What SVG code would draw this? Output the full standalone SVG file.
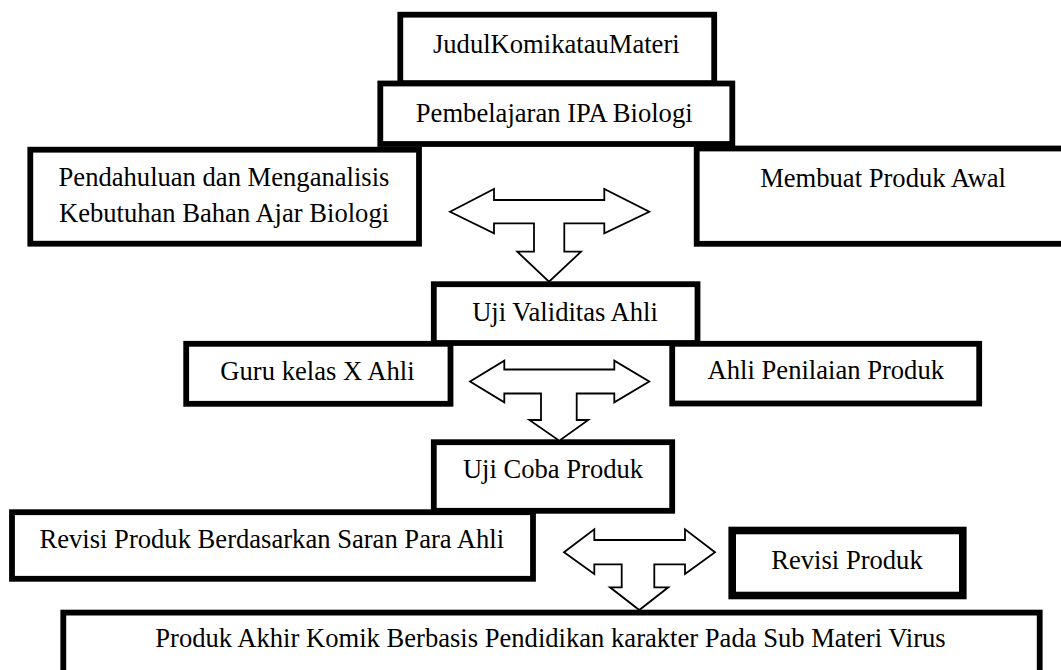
<svg xmlns="http://www.w3.org/2000/svg" width="1061" height="670" viewBox="0 0 1061 670">
<style>
.box{fill:#fff;stroke:#000;stroke-width:5.8}
.thick{stroke-width:7.6}
.lbl{font-family:"Liberation Serif","Times New Roman",serif;font-size:26.6px;fill:#000;text-anchor:middle}
.arrow{fill:#fff;stroke:#000;stroke-width:1.8;stroke-linejoin:miter}
</style>
<rect width="1061" height="670" fill="#fff"/>
<g id="node-judul">
<rect class="box" x="400.3" y="14.7" width="313.9" height="68.5"/>
<text class="lbl" x="556.3" y="52.5">JudulKomikatauMateri</text>
</g>
<g id="node-pembelajaran">
<rect class="box" x="380.3" y="83.5" width="352" height="60.5"/>
<text class="lbl" x="554.2" y="121.5">Pembelajaran IPA Biologi</text>
</g>
<g id="node-pendahuluan">
<rect class="box" x="30.3" y="149.7" width="388.7" height="94"/>
<text class="lbl" x="224" y="185.7">Pendahuluan dan Menganalisis</text>
<text class="lbl" x="224" y="221.7">Kebutuhan Bahan Ajar Biologi</text>
</g>
<g id="node-membuat">
<rect class="box" x="696.7" y="148.5" width="380" height="95.3"/>
<text class="lbl" x="883" y="187">Membuat Produk Awal</text>
</g>
<g id="node-ujivaliditas">
<rect class="box" x="433.8" y="284.2" width="263.7" height="58.8"/>
<text class="lbl" x="565" y="320.7">Uji Validitas Ahli</text>
</g>
<g id="node-guru">
<rect class="box" x="186.2" y="343.8" width="264.3" height="60"/>
<text class="lbl" x="317.5" y="380">Guru kelas X Ahli</text>
</g>
<g id="node-ahlipenilaian">
<rect class="box" x="672.2" y="343.8" width="307" height="59.7"/>
<text class="lbl" x="825.8" y="379.3">Ahli Penilaian Produk</text>
</g>
<g id="node-ujicoba">
<rect class="box" x="433.8" y="442.2" width="238.4" height="68.6"/>
<text class="lbl" x="553" y="478.3">Uji Coba Produk</text>
</g>
<g id="node-revisisaran">
<rect class="box" x="12" y="512.2" width="521" height="66.6"/>
<text class="lbl" x="39.5" y="548" style="text-anchor:start">Revisi Produk Berdasarkan Saran Para Ahli</text>
</g>
<g id="node-revisi">
<rect class="box thick" x="732.2" y="530.5" width="230.6" height="65"/>
<text class="lbl" x="847" y="569">Revisi Produk</text>
</g>
<g id="node-produkakhir">
<rect class="box" x="63.3" y="612.6" width="976.4" height="70"/>
<text class="lbl" x="550.5" y="647">Produk Akhir Komik Berbasis Pendidikan karakter Pada Sub Materi Virus</text>
</g>
<g id="connectors">
<polygon class="arrow" points="450,211.7 494,189 494,200 604.3,200 604.3,189 649.3,211.7 604.3,233.3 604.3,223.3 564.3,223.3 564.3,251.7 581,251.7 549,281.7 517.3,251.7 534,251.7 534,223.3 494,223.3 494,233.3"/>
<polygon class="arrow" points="470,381.5 504.3,360.7 504.3,369.5 614.3,369.5 614.3,360.7 649.3,381.5 614.3,402.3 614.3,393.5 576.7,393.5 576.7,420 588.3,420 559.3,440.7 529.3,420 541,420 541,393.5 504.3,393.5 504.3,402.3"/>
<polygon class="arrow" points="564,552.3 594.3,529.3 594.3,540 685,540 685,529.3 715,552.3 685,574 685,564.3 654.3,564.3 654.3,587.3 668.3,587.3 639.3,610 610,587.3 621.7,587.3 621.7,564.3 594.3,564.3 594.3,574"/>
</g>
</svg>
